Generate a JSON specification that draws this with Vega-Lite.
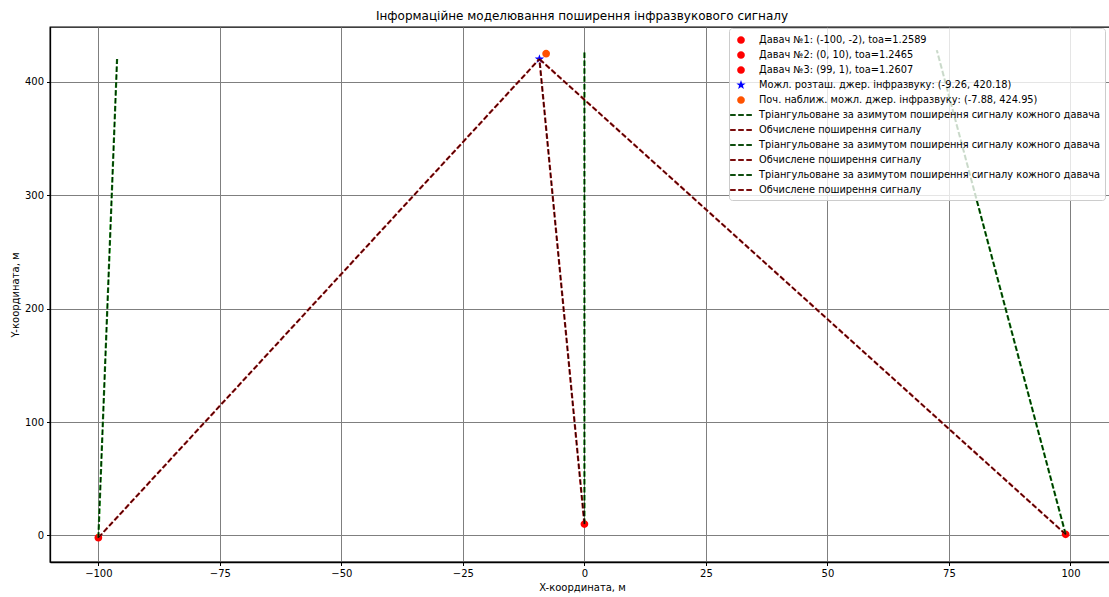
{
  "$schema": "https://vega.github.io/schema/vega-lite/v6.json",
  "width": 1064,
  "height": 535,
  "autosize": {"type": "none"},
  "padding": {"left": 50, "top": 27, "right": 0, "bottom": 35},
  "background": "white",
  "config": {
    "font": "DejaVu Sans",
    "view": {"stroke": "black", "strokeWidth": 1.3},
    "axis": {
      "domainColor": "black",
      "domainWidth": 1.3,
      "tickColor": "black",
      "tickSize": 3.5,
      "tickWidth": 1,
      "labelFont": "DejaVu Sans",
      "labelFontSize": 10,
      "labelColor": "black",
      "labelPadding": 3,
      "gridColor": "#7f7f7f",
      "gridWidth": 1,
      "titleFont": "DejaVu Sans",
      "titleFontSize": 10,
      "titleFontWeight": "normal",
      "titleColor": "black"
    }
  },
  "title": {
    "text": "Інформаційне моделювання поширення інфразвукового сигналу",
    "font": "DejaVu Sans",
    "fontSize": 12,
    "fontWeight": "normal",
    "color": "black",
    "anchor": "middle",
    "offset": 4
  },
  "datasets": {
    "points": [
      {"series": "d1", "x": -100, "y": -2},
      {"series": "d2", "x": 0, "y": 10},
      {"series": "d3", "x": 99, "y": 1},
      {"series": "src", "x": -9.26, "y": 420.18},
      {"series": "init", "x": -7.88, "y": 424.95}
    ],
    "lines": [
      {"line": "g1", "kind": "triangulated", "order": 0, "x": -100, "y": -2},
      {"line": "g1", "kind": "triangulated", "order": 1, "x": -96.15, "y": 420.2},
      {"line": "r1", "kind": "computed", "order": 0, "x": -100, "y": -2},
      {"line": "r1", "kind": "computed", "order": 1, "x": -9.26, "y": 420.18},
      {"line": "g2", "kind": "triangulated", "order": 0, "x": 0, "y": 10},
      {"line": "g2", "kind": "triangulated", "order": 1, "x": 0, "y": 428},
      {"line": "r2", "kind": "computed", "order": 0, "x": 0, "y": 10},
      {"line": "r2", "kind": "computed", "order": 1, "x": -9.26, "y": 420.18},
      {"line": "g3", "kind": "triangulated", "order": 0, "x": 99, "y": 1},
      {"line": "g3", "kind": "triangulated", "order": 1, "x": 72.5, "y": 428},
      {"line": "r3", "kind": "computed", "order": 0, "x": 99, "y": 1},
      {"line": "r3", "kind": "computed", "order": 1, "x": -9.26, "y": 420.18}
    ]
  },
  "encoding": {
    "x": {
      "field": "x",
      "type": "quantitative",
      "scale": {"domain": [-109.95, 108.95], "nice": false, "zero": false},
      "axis": {"values": [-100, -75, -50, -25, 0, 25, 50, 75, 100], "title": "X-координата, м", "titlePadding": 4}
    },
    "y": {
      "field": "y",
      "type": "quantitative",
      "scale": {"domain": [-23.45, 448.45], "nice": false, "zero": false},
      "axis": {"values": [0, 100, 200, 300, 400], "title": "Y-координата, м", "titlePadding": 4}
    }
  },
  "layer": [
    {
      "data": {"name": "points"},
      "mark": {"type": "point", "filled": true, "size": 196, "opacity": 1, "strokeWidth": 0},
      "encoding": {
        "color": {
          "field": "series",
          "type": "nominal",
          "scale": {
            "domain": ["d1", "d2", "d3", "src", "init", "g1", "r1", "g2", "r2", "g3", "r3"],
            "range": ["#ff0000", "#ff0000", "#ff0000", "#0000ff", "#ff5200", "#0d4d0d", "#7a0c0c", "#0d4d0d", "#7a0c0c", "#0d4d0d", "#7a0c0c"]
          },
          "legend": {
            "title": null,
            "orient": "none",
            "legendX": 679,
            "legendY": 1,
            "symbolSize": 196,
            "symbolStrokeWidth": 0,
            "symbolOpacity": 1,
            "labelFont": "DejaVu Sans",
            "labelFontSize": 9.8,
            "labelColor": "black",
            "labelOffset": 11,
            "labelLimit": 600,
            "rowPadding": 3,
            "padding": 5,
            "fillColor": "rgba(255,255,255,0.8)",
            "strokeColor": "#cccccc",
            "cornerRadius": 3,
            "zindex": 2,
            "labelExpr": "datum.label == 'd1' ? 'Давач №1: (-100, -2), toa=1.2589' : datum.label == 'd2' ? 'Давач №2: (0, 10), toa=1.2465' : datum.label == 'd3' ? 'Давач №3: (99, 1), toa=1.2607' : datum.label == 'src' ? 'Можл. розташ. джер. інфразвуку: (-9.26, 420.18)' : datum.label == 'init' ? 'Поч. наближ. можл. джер. інфразвуку: (-7.88, 424.95)' : (datum.label == 'g1' || datum.label == 'g2' || datum.label == 'g3') ? 'Тріангульоване за азимутом поширення сигналу кожного давача' : 'Обчислене поширення сигналу'"
          }
        },
        "shape": {
          "field": "series",
          "type": "nominal",
          "scale": {
            "domain": ["d1", "d2", "d3", "src", "init", "g1", "r1", "g2", "r2", "g3", "r3"],
            "range": [
              "M0.55,0A0.55,0.55,0,1,1,-0.55,0A0.55,0.55,0,1,1,0.55,0Z",
              "M0.55,0A0.55,0.55,0,1,1,-0.55,0A0.55,0.55,0,1,1,0.55,0Z",
              "M0.55,0A0.55,0.55,0,1,1,-0.55,0A0.55,0.55,0,1,1,0.55,0Z",
              "M0,-0.7L0.166,-0.228L0.666,-0.216L0.269,0.087L0.412,0.566L0,0.283L-0.412,0.566L-0.269,0.087L-0.666,-0.216L-0.166,-0.228Z",
              "M0.55,0A0.55,0.55,0,1,1,-0.55,0A0.55,0.55,0,1,1,0.55,0Z",
              "M-1.55,-0.13H-0.76V0.13H-1.55Z M-0.4,-0.13H0.4V0.13H-0.4Z M0.76,-0.13H1.55V0.13H0.76Z",
              "M-1.55,-0.13H-0.76V0.13H-1.55Z M-0.4,-0.13H0.4V0.13H-0.4Z M0.76,-0.13H1.55V0.13H0.76Z",
              "M-1.55,-0.13H-0.76V0.13H-1.55Z M-0.4,-0.13H0.4V0.13H-0.4Z M0.76,-0.13H1.55V0.13H0.76Z",
              "M-1.55,-0.13H-0.76V0.13H-1.55Z M-0.4,-0.13H0.4V0.13H-0.4Z M0.76,-0.13H1.55V0.13H0.76Z",
              "M-1.55,-0.13H-0.76V0.13H-1.55Z M-0.4,-0.13H0.4V0.13H-0.4Z M0.76,-0.13H1.55V0.13H0.76Z",
              "M-1.55,-0.13H-0.76V0.13H-1.55Z M-0.4,-0.13H0.4V0.13H-0.4Z M0.76,-0.13H1.55V0.13H0.76Z"
            ]
          }
        }
      }
    },
    {
      "data": {"name": "lines"},
      "mark": {"type": "line", "strokeWidth": 2.2, "strokeDash": [5.5, 2.4]},
      "encoding": {
        "detail": {"field": "line", "type": "nominal"},
        "order": {"field": "order", "type": "quantitative"},
        "stroke": {
          "field": "kind",
          "type": "nominal",
          "scale": {"domain": ["triangulated", "computed"], "range": ["#0f8a0f", "#a81010"]},
          "legend": null
        }
      }
    },
    {
      "data": {"name": "lines"},
      "mark": {"type": "line", "strokeWidth": 1.0, "strokeDash": [5.5, 2.4], "color": "#000000", "opacity": 0.85},
      "encoding": {
        "detail": {"field": "line", "type": "nominal"},
        "order": {"field": "order", "type": "quantitative"}
      }
    }
  ]
}
